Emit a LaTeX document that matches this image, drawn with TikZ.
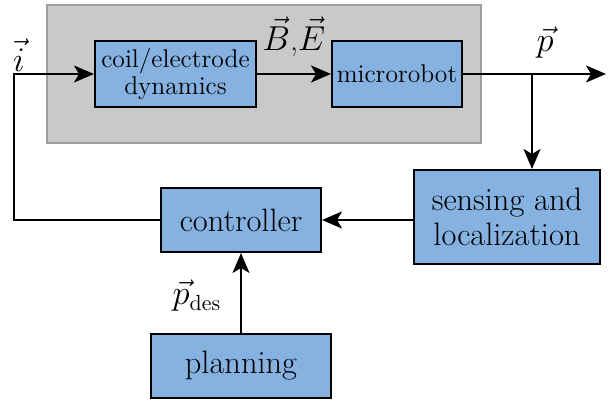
\documentclass[tikz,border=0pt]{standalone}
\usepackage{tikz}
\usetikzlibrary{arrows.meta}
\definecolor{blockblue}{RGB}{133,178,224}
\definecolor{boxgray}{RGB}{201,201,203}
\definecolor{edgegray}{RGB}{158,158,158}

\begin{document}
\begin{tikzpicture}[x=0.5pt,y=-0.5pt,line width=1pt,
  >={Stealth[length=10pt,width=8.5pt,inset=2.5pt]},
  block/.style={draw=black,fill=blockblue,line width=1pt,inner sep=0pt,align=center},
  small/.style={font=\fontsize{12.8}{13.5}\selectfont},
  large/.style={font=\fontsize{16.2}{17.5}\selectfont}]
\useasboundingbox (0,0) rectangle (608,400);
\node (0) at (264,74) [draw=edgegray,fill=boxgray,line width=1pt,minimum width=217pt,minimum height=69pt] {};
\node (1) at (175.5,74) [block,small,minimum width=80.5pt,minimum height=33pt] {coil/electrode\\dynamics};
\node (2) at (397,74) [block,small,minimum width=65pt,minimum height=33pt] {microrobot};
\node (3) at (507,217) [block,large,minimum width=93pt,minimum height=47pt] {sensing and\\localization};
\node (4) at (241,220) [block,large,minimum width=80pt,minimum height=32pt] {controller};
\node (5) at (241,366) [block,large,minimum width=90pt,minimum height=32pt] {planning};
\coordinate (6) at (606,74);
\coordinate (7) at (532,74);
\coordinate (8) at (14,220);
\coordinate (9) at (14,74);
\node (10) at (294,37) [large] {$\vec{B}$,$\vec{E}$};
\node (11) at (545,43) [large] {$\vec{p}$};
\node (12) at (197,296) [large] {$\vec{p}_{\mathrm{des}}$};
\node (13) at (19,55) [large] {$\vec{i}$};
\draw [->](1)--(2);
\draw [->](2)--(6);
\draw [->](7)--(7|-3.north);
\draw [->](3.west|-4)--(4);
\draw [->](5)--(4);
\draw [->](4)--(8)--(9)--(1);
\end{tikzpicture}
\end{document}
